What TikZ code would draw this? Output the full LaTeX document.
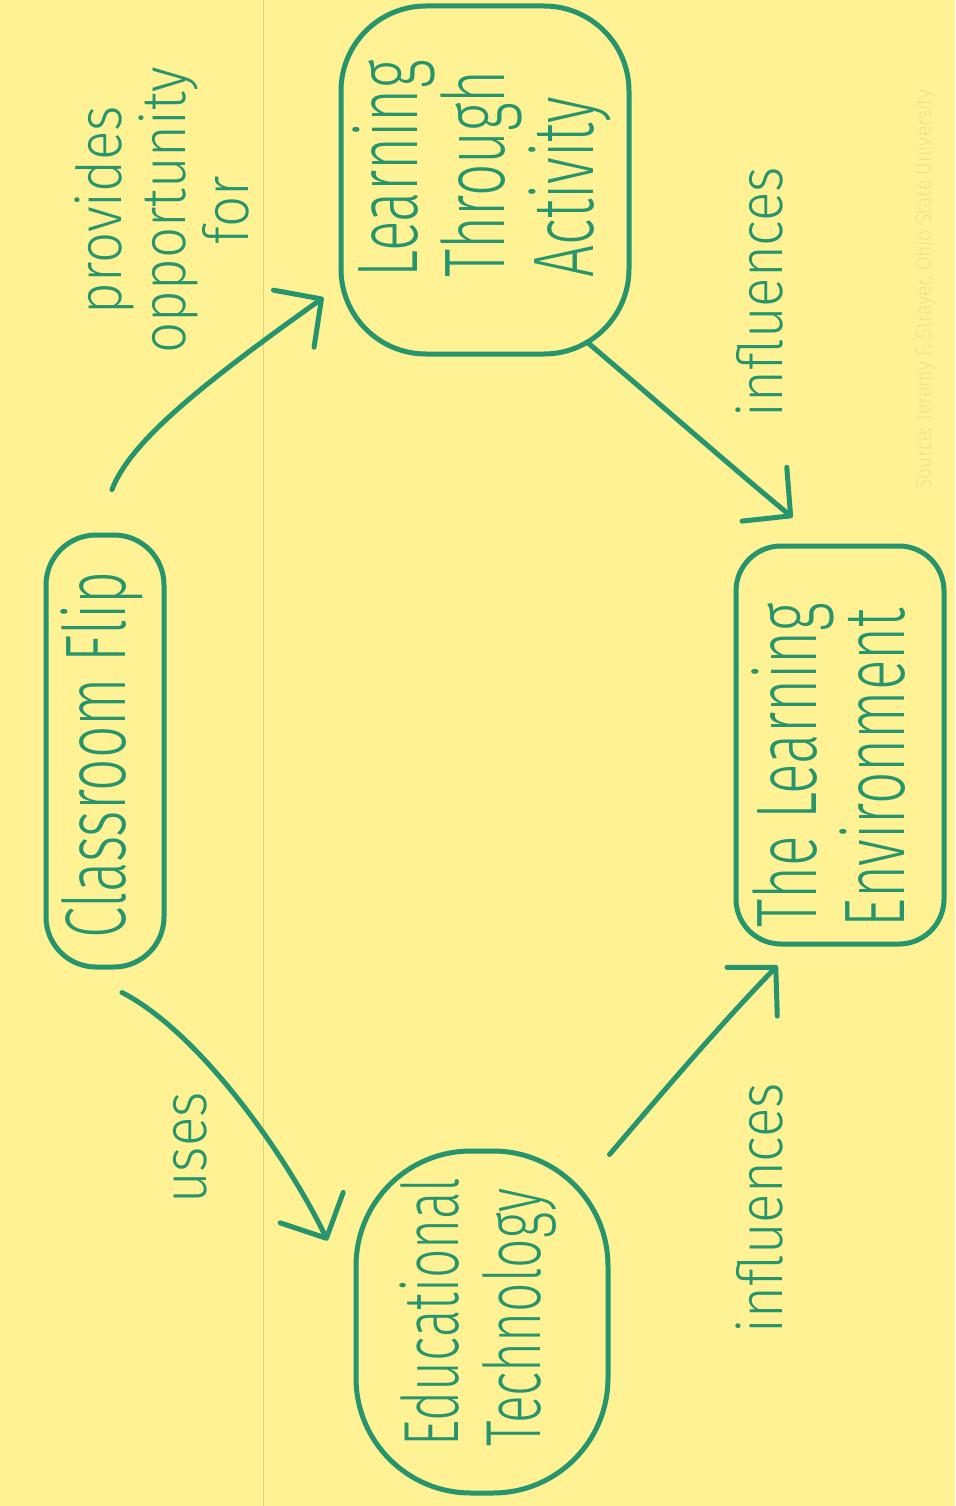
\documentclass[tikz,border=0pt]{standalone}
\usepackage{fontspec}
\usepackage{graphicx}
\usetikzlibrary{arrows.meta,calc}
\IfFontExistsTF{Fira Sans Light}{%
  \newfontfamily\handbig[FakeStretch=0.66]{Fira Sans Light}%
  \newfontfamily\handlab[FakeStretch=0.88]{Fira Sans Light}%
}{%
  \newfontfamily\handbig[FakeStretch=0.66]{Fira Sans}%
  \newfontfamily\handlab[FakeStretch=0.88]{Fira Sans}%
}
\definecolor{bg}{RGB}{255,242,148}
\definecolor{ink}{RGB}{38,148,108}
\definecolor{rulecol}{RGB}{225,208,120}
\definecolor{faint}{RGB}{238,224,140}
% #1: pad below the text (moves it up), #2: pad above (moves it down)
\newcommand{\rtext}[3]{\rotatebox{90}{\begin{tabular}{@{\hspace{#1}}l@{\hspace{#2}}}#3\end{tabular}}}
\newcommand{\ctext}[1]{\rotatebox{90}{\begin{tabular}{@{}c@{}}#1\end{tabular}}}
\begin{document}
\begin{tikzpicture}[x=1pt,y=-1pt,
  box/.style={draw=ink, line width=5pt, inner sep=0pt, text=ink,
    font=\handbig\fontsize{86}{80}\selectfont},
  lab/.style={inner sep=0pt, text=ink, font=\handlab\fontsize{62}{56}\selectfont},
  conn/.style={draw=ink, line width=5pt, line cap=round,
    -{Straight Barb[length=34pt,width=70pt,round]}}]
\fill[bg] (0,0) rectangle (955,1506);
\useasboundingbox (0,0) rectangle (955,1506);
\draw[rulecol, line width=1pt] (263,0) -- (263,1506);

\node[box, rounded corners=50pt, minimum width=118pt, minimum height=432pt] (cf) at (105,751) {\rtext{0pt}{8pt}{Classroom Flip}};
\node[box, rounded corners=85pt, minimum width=288pt, minimum height=348pt] (lta) at (485,180) {\rtext{22pt}{0pt}{Learning\\Through\\Activity}};
\node[box, rounded corners=115pt, minimum width=252pt, minimum height=342pt,
  font=\handbig\fontsize{78}{80}\selectfont] (et) at (482,1322) {\rtext{20pt}{0pt}{Educational\\Technology}};
\node[box, rounded corners=45pt, minimum width=208pt, minimum height=398pt] (tle) at (840,745) {\rtext{0pt}{40pt}{The Learning\\Environment}};

\node[lab] (l1) at (170,210) {\ctext{provides\\opportunity\\for}};
\node[lab] (l2) at (195,1148) {\ctext{uses}};
\node[lab] (l3) at (768,292) {\ctext{influences}};
\node[lab] (l4) at (768,1208) {\ctext{influences}};

\node[font=\handlab\fontsize{22}{22}\selectfont, text=faint, anchor=west, rotate=90, inner sep=0pt] (src) at (925,490) {Source: Jeremy F. Strayer, Ohio State University};

\draw[conn] ($(cf.north)+(7,-43)$) .. controls ($(cf.north)+(25,-90)$) and ($(lta.south west)+(-140,30)$) .. ($(lta.south west)+(-15,-59)$);
\draw[conn] ($(cf.south)+(17,23)$) .. controls ($(cf.south)+(95,63)$) and ($(et.north west)+(-66,9)$) .. ($(et.north west)+(-26,92)$);
\draw[conn] ($(et.north east)+(-1,6)$) .. controls ($(et.north east)+(52,-56)$) and ($(tle.south west)+(-16,81)$) .. ($(tle.south west)+(44,19)$);
\draw[conn] ($(lta.south east)+(-44,-14)$) .. controls ($(lta.south east)+(21,41)$) and ($(tle.north west)+(-6,-80)$) .. ($(tle.north west)+(59,-26)$);
\end{tikzpicture}
\end{document}
